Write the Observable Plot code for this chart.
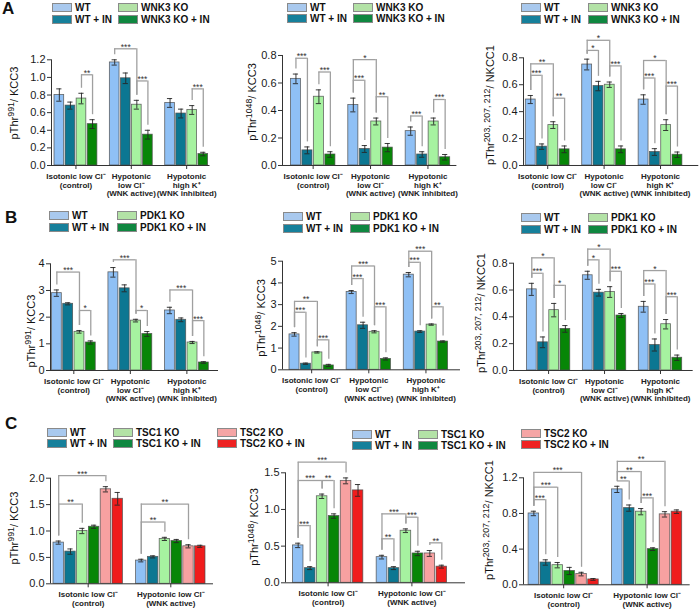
<!DOCTYPE html>
<html>
<head>
<meta charset="utf-8">
<script src="https://cdn.jsdelivr.net/npm/d3@7"></script>
<script src="https://cdn.jsdelivr.net/npm/@observablehq/plot@0.6"></script>
<style>
  body { margin: 0; background: #fff; }
  #fig { position: relative; width: 700px; height: 610px; overflow: hidden; background: #fff;
         font-family: "Liberation Sans", Arial, sans-serif; color: #111; }
  .letter { position: absolute; font-weight: bold; font-size: 17px; line-height: 1; }
  .leg-box { position: absolute; width: 20px; height: 9px; border: 1px solid #8a8a8a; box-sizing: border-box; }
  .leg-text { position: absolute; font-weight: bold; font-size: 10px; line-height: 9px; white-space: nowrap; color: #111; }
  .ylab { position: absolute; font-size: 11px; line-height: 1; white-space: nowrap; color: #111;
          transform: translate(-50%, -50%) rotate(-90deg); }
  .ylab sup { font-size: 80%; line-height: 0; vertical-align: 0.45em; }
  svg { position: absolute; }
</style>
</head>
<body>
<div id="fig"></div>
<script>
// ---------------- categories ----------------
const conditions3 = ["Isotonic low Cl⁻\n(control)", "Hypotonic\nlow Cl⁻\n(WNK active)", "Hypotonic\nhigh K⁺\n(WNK inhibited)"];
const conditions2 = ["Isotonic low Cl⁻\n(control)", "Hypotonic low Cl⁻\n(WNK active)"];
const wnkSeries = ["WT", "WT + IN", "WNK3 KO", "WNK3 KO + IN"];
const pdkSeries = ["WT", "WT + IN", "PDK1 KO", "PDK1 KO + IN"];
const tscSeries = ["WT", "WT + IN", "TSC1 KO", "TSC1 KO + IN", "TSC2 KO", "TSC2 KO + IN"];
const barColors4 = ["#8fc0f5", "#0c7792", "#a6f2a0", "#078607"];
const barColors6 = ["#8fc0f5", "#0c7792", "#a6f2a0", "#078607", "#f7a1a1", "#f01c1c"];
const legColors6 = ["#a9c9ee", "#16809b", "#b3e2a6", "#0f8740", "#f5a5a5", "#ee2222"];

// ---------------- y labels & ticks ----------------
const yLabelKCC991 = "pThr<sup>991</sup>/ KCC3";
const yLabelKCC1048 = "pThr<sup>1048</sup>/ KCC3";
const yLabelNKCC = "pThr<sup>203, 207, 212</sup>/ NKCC1";
const ticksA1 = [0, 0.2, 0.4, 0.6, 0.8, 1.0, 1.2];
const ticksA2 = [0, 0.2, 0.4, 0.6, 0.8];
const ticksA3 = [0, 0.2, 0.4, 0.6, 0.8];
const ticksB1 = [0, 1, 2, 3, 4];
const ticksB2 = [0, 1, 2, 3, 4, 5];
const ticksB3 = [0, 0.2, 0.4, 0.6, 0.8];
const ticksC1 = [0, 0.5, 1.0, 1.5, 2.0];
const ticksC2 = [0, 0.5, 1.0, 1.5];
const ticksC3 = [0, 0.4, 0.8, 1.2];

// ---------------- values (mean, error) per condition ----------------
const a1Mean = [[0.80, 0.68, 0.76, 0.47], [1.17, 0.99, 0.69, 0.35], [0.71, 0.59, 0.63, 0.13]];
const a1Err  = [[0.07, 0.04, 0.06, 0.05], [0.03, 0.06, 0.05, 0.05], [0.05, 0.05, 0.05, 0.02]];
const a1Sig  = [[0, 2, 3, 1.03, "**"], [1, 0, 2, 1.325, "***"], [1, 2, 3, 0.96, "***"], [2, 2, 3, 0.87, "***"]];

const a2Mean = [[0.63, 0.11, 0.50, 0.08], [0.44, 0.12, 0.32, 0.13], [0.25, 0.08, 0.32, 0.06]];
const a2Err  = [[0.035, 0.025, 0.05, 0.02], [0.05, 0.025, 0.025, 0.03], [0.03, 0.02, 0.025, 0.02]];
const a2Sig  = [[0, 0, 1, 0.78, "***"], [0, 2, 3, 0.68, "***"], [1, 0, 2, 0.77, "*"], [1, 0, 1, 0.62, "***"],
                [1, 2, 3, 0.50, "**"], [2, 0, 1, 0.36, "***"], [2, 2, 3, 0.48, "***"]];

const a3Mean = [[0.49, 0.14, 0.30, 0.12], [0.75, 0.59, 0.60, 0.12], [0.49, 0.10, 0.30, 0.08]];
const a3Err  = [[0.03, 0.02, 0.025, 0.025], [0.04, 0.035, 0.02, 0.025], [0.035, 0.025, 0.04, 0.02]];
const a3Sig  = [[0, 0, 2, 0.755, "**"], [0, 0, 1, 0.67, "***"], [0, 2, 3, 0.50, "**"], [1, 0, 2, 0.93, "*"],
                [1, 0, 1, 0.855, "*"], [1, 2, 3, 0.74, "***"], [2, 0, 2, 0.78, "*"], [2, 0, 1, 0.65, "***"], [2, 2, 3, 0.59, "***"]];

const b1Mean = [[2.90, 2.50, 1.45, 1.05], [3.68, 3.08, 1.87, 1.37], [2.25, 1.90, 1.05, 0.30]];
const b1Err  = [[0.12, 0.04, 0.05, 0.06], [0.18, 0.13, 0.05, 0.09], [0.12, 0.07, 0.04, 0.03]];
const b1Sig  = [[0, 0, 2, 3.69, "***"], [0, 2, 3, 2.25, "*"], [1, 0, 2, 4.15, "***"], [1, 2, 3, 2.25, "*"],
                [2, 0, 2, 3.02, "***"], [2, 2, 3, 1.87, "***"]];

const b2Mean = [[1.63, 0.28, 0.80, 0.20], [3.58, 2.05, 1.75, 0.50], [4.38, 1.76, 2.08, 1.30]];
const b2Err  = [[0.08, 0.03, 0.03, 0.05], [0.07, 0.14, 0.05, 0.05], [0.10, 0.04, 0.03, 0.03]];
const b2Sig  = [[0, 0, 2, 3.15, "**"], [0, 0, 1, 2.65, "***"], [0, 2, 3, 1.38, "***"], [1, 0, 2, 4.78, "***"],
                [1, 0, 1, 4.2, "***"], [1, 2, 3, 2.9, "***"], [2, 0, 2, 5.46, "***"], [2, 0, 1, 4.95, "***"], [2, 2, 3, 2.9, "**"]];

const b3Mean = [[0.605, 0.21, 0.45, 0.31], [0.71, 0.58, 0.585, 0.41], [0.475, 0.19, 0.345, 0.095]];
const b3Err  = [[0.045, 0.04, 0.05, 0.025], [0.03, 0.025, 0.04, 0.015], [0.04, 0.045, 0.035, 0.02]];
const b3Sig  = [[0, 0, 2, 0.84, "*"], [0, 0, 1, 0.725, "***"], [0, 2, 3, 0.635, "*"], [1, 0, 2, 0.905, "*"],
                [1, 0, 1, 0.825, "*"], [1, 2, 3, 0.74, "***"], [2, 0, 2, 0.745, "*"], [2, 0, 1, 0.645, "***"], [2, 2, 3, 0.55, "***"]];

const c1Mean = [[0.78, 0.61, 1.00, 1.08, 1.79, 1.61], [0.44, 0.51, 0.85, 0.81, 0.71, 0.71]];
const c1Err  = [[0.03, 0.05, 0.05, 0.03, 0.05, 0.12], [0.025, 0.02, 0.03, 0.03, 0.03, 0.02]];
const c1Sig  = [[0, 0, 4, 2.05, "***"], [0, 0, 2, 1.51, "**"], [1, 0, 4, 1.51, "**"], [1, 0, 2, 1.17, "**"]];

const c2Mean = [[0.51, 0.20, 1.18, 0.91, 1.39, 1.26], [0.35, 0.20, 0.71, 0.40, 0.40, 0.22]];
const c2Err  = [[0.03, 0.02, 0.03, 0.03, 0.04, 0.08], [0.025, 0.02, 0.025, 0.03, 0.04, 0.02]];
const c2Sig  = [[0, 0, 4, 1.645, "***"], [0, 0, 2, 1.395, "***"], [0, 2, 3, 1.395, "**"], [0, 0, 1, 0.78, "***"],
                [1, 0, 2, 0.94, "***"], [1, 2, 3, 0.895, "***"], [1, 0, 1, 0.60, "**"], [1, 4, 5, 0.545, "**"]];

const c3Mean = [[0.80, 0.25, 0.22, 0.155, 0.12, 0.06], [1.07, 0.86, 0.82, 0.40, 0.79, 0.82]];
const c3Err  = [[0.025, 0.03, 0.03, 0.04, 0.02, 0.01], [0.035, 0.035, 0.035, 0.015, 0.03, 0.02]];
const c3Sig  = [[0, 0, 4, 1.26, "***"], [0, 0, 2, 1.095, "***"], [0, 0, 1, 0.955, "***"], [1, 0, 4, 1.385, "**"],
                [1, 0, 2, 1.27, "**"], [1, 0, 1, 1.165, "**"], [1, 2, 3, 0.975, "***"]];

// ---------------- layout (pixels) ----------------
const fig = document.getElementById("fig");
const FONT = '"Liberation Sans", Arial, sans-serif';
const fmt1 = d3.format(".1f"), fmt0 = d3.format("d");

const panels = [
  {means: a1Mean, errs: a1Err, sigs: a1Sig, series: wnkSeries, colors: barColors4, groups: conditions3, ticks: ticksA1, fmt: fmt1,
   ylab: yLabelKCC991, lab: [14, 103], g: {axisL: 51, first: 53.3, last: 208.3, axisR: 209.5, y0: 165, yTop: 59.3, top: 25}},
  {means: a2Mean, errs: a2Err, sigs: a2Sig, series: wnkSeries, colors: barColors4, groups: conditions3, ticks: ticksA2, fmt: fmt1,
   ylab: yLabelKCC1048, lab: [252, 102], g: {axisL: 282.3, first: 290, last: 450.7, axisR: 456.7, y0: 165, yTop: 55, top: 25}},
  {means: a3Mean, errs: a3Err, sigs: a3Sig, series: wnkSeries, colors: barColors4, groups: conditions3, ticks: ticksA3, fmt: fmt1,
   ylab: yLabelNKCC, lab: [490, 105], g: {axisL: 522.7, first: 524.3, last: 682.3, axisR: 698, y0: 165, yTop: 57.3, top: 25}},
  {means: b1Mean, errs: b1Err, sigs: b1Sig, series: pdkSeries, colors: barColors4, groups: conditions3, ticks: ticksB1, fmt: fmt0,
   ylab: yLabelKCC991, lab: [31, 331], g: {axisL: 50, first: 50.7, last: 209, axisR: 218, y0: 370, yTop: 263.3, top: 232}},
  {means: b2Mean, errs: b2Err, sigs: b2Sig, series: pdkSeries, colors: barColors4, groups: conditions3, ticks: ticksB2, fmt: fmt0,
   ylab: yLabelKCC1048, lab: [261, 318], g: {axisL: 282, first: 288.3, last: 448.3, axisR: 460, y0: 369.3, yTop: 260.7, top: 232}},
  {means: b3Mean, errs: b3Err, sigs: b3Sig, series: pdkSeries, colors: barColors4, groups: conditions3, ticks: ticksB3, fmt: fmt1,
   ylab: yLabelNKCC, lab: [481, 313], g: {axisL: 513.3, first: 526, last: 682.7, axisR: 693, y0: 370, yTop: 262.7, top: 232}},
  {means: c1Mean, errs: c1Err, sigs: c1Sig, series: tscSeries, colors: barColors6, groups: conditions2, ticks: ticksC1, fmt: fmt1,
   ylab: yLabelKCC991, lab: [14, 528], g: {axisL: 50, first: 52.3, last: 205.7, axisR: 213, y0: 583.3, yTop: 477.7, top: 448}},
  {means: c2Mean, errs: c2Err, sigs: c2Sig, series: tscSeries, colors: barColors6, groups: conditions2, ticks: ticksC2, fmt: fmt1,
   ylab: yLabelKCC1048, lab: [254, 527], g: {axisL: 285, first: 291.7, last: 447.3, axisR: 465, y0: 582.3, yTop: 472.3, top: 448}},
  {means: c3Mean, errs: c3Err, sigs: c3Sig, series: tscSeries, colors: barColors6, groups: conditions2, ticks: ticksC3, fmt: fmt1,
   ylab: yLabelNKCC, lab: [489, 520], g: {axisL: 523.3, first: 527.7, last: 682.7, axisR: 690, y0: 584.3, yTop: 477.3, top: 448}}
];

function drawPanel(p) {
  const G = p.g;
  const n = p.series.length, nG = p.means.length, gapUnits = 1;
  const total = nG * n + (nG - 1) * gapUnits;
  const u = (G.last - G.first) / total;
  const padL = (G.first - G.axisL) / u, padR = (G.axisR - G.last) / u;
  const ymax = p.ticks[p.ticks.length - 1];
  const ppu = (G.y0 - G.yTop) / ymax;
  const mL = 48, mR = 8, mB = 46;
  const svgLeft = G.axisL - mL, svgTop = G.top;
  const mT = G.yTop - svgTop;
  const width = G.axisR + mR - svgLeft, height = G.y0 + mB - svgTop;
  const pos = (g, s) => g * (n + gapUnits) + s;

  const bars = [];
  p.means.forEach((row, g) => row.forEach((v, s) => bars.push({
    g, s, v, e: p.errs[g][s], name: p.series[s], x1: pos(g, s), x2: pos(g, s) + 1, xc: pos(g, s) + 0.5
  })));
  const topOf = (g, s) => p.means[g][s] + p.errs[g][s];
  const cap = 2.6 / u;
  const legGap = 5 / ppu;
  const brackets = p.sigs.map(([g, i, j, level, label]) => ({
    x1: pos(g, i) + 0.5, x2: pos(g, j) + 0.5, y: level, label
  }));
  const legs = [];
  p.sigs.forEach(([g, i, j, level]) => {
    legs.push({x: pos(g, i) + 0.5, y1: level, y2: Math.min(level, topOf(g, i) + legGap)});
    legs.push({x: pos(g, j) + 0.5, y1: level, y2: Math.min(level, topOf(g, j) + legGap)});
  });
  const groupData = p.groups.map((label, g) => ({label, xc: pos(g, 0) + n / 2}));

  const svg = Plot.plot({
    width, height, marginLeft: mL, marginRight: mR, marginTop: mT, marginBottom: mB,
    x: {domain: [-padL, total + padR], label: null},
    y: {domain: [0, ymax], label: null},
    color: {domain: p.series, range: p.colors},
    style: {background: "transparent", overflow: "visible", fontFamily: FONT, fontSize: "11px", color: "#1a1a1a"},
    marks: [
      Plot.rect(bars, {x1: "x1", x2: "x2", y1: 0, y2: "v", fill: "name", stroke: "#4d4d4d", strokeWidth: 0.8,
                       strokeOpacity: 0.85, insetLeft: 0.7, insetRight: 0.7}),
      Plot.ruleX(bars, {x: "xc", y1: d => d.v - d.e, y2: d => d.v + d.e, stroke: "#262626", strokeWidth: 0.9}),
      Plot.ruleY(bars, {y: d => d.v + d.e, x1: d => d.xc - cap, x2: d => d.xc + cap, stroke: "#262626", strokeWidth: 0.9}),
      Plot.ruleY(bars, {y: d => d.v - d.e, x1: d => d.xc - cap, x2: d => d.xc + cap, stroke: "#262626", strokeWidth: 0.9}),
      Plot.ruleX(legs, {x: "x", y1: "y1", y2: "y2", stroke: "#a0a0a0", strokeWidth: 1.3}),
      Plot.ruleY(brackets, {y: "y", x1: "x1", x2: "x2", stroke: "#a0a0a0", strokeWidth: 1.3}),
      Plot.text(brackets, {x: d => (d.x1 + d.x2) / 2, y: "y", text: "label", lineAnchor: "bottom", dy: 1,
                           fontSize: 8.5, fill: "#333"}),
      Plot.ruleY([0], {stroke: "#333", strokeWidth: 1}),
      Plot.ruleX([-padL], {y1: 0, y2: ymax, stroke: "#333", strokeWidth: 1}),
      Plot.axisY({ticks: p.ticks, tickFormat: p.fmt, tickSize: 4, tickPadding: 2, label: null, stroke: "#333"}),
      Plot.axisX({ticks: groupData.map(d => d.xc), tickFormat: () => "", tickSize: 4, label: null, stroke: "#333"}),
      Plot.text(groupData, {x: "xc", y: 0, text: "label", lineAnchor: "top", dy: 7, fontSize: 8,
                            fontWeight: "bold", lineHeight: 1.1, fill: "#222"})
    ]
  });
  svg.style.left = svgLeft + "px";
  svg.style.top = svgTop + "px";
  fig.appendChild(svg);

  const yl = document.createElement("div");
  yl.className = "ylab";
  yl.innerHTML = p.ylab;
  yl.style.left = p.lab[0] + "px";
  yl.style.top = p.lab[1] + "px";
  fig.appendChild(yl);
}
panels.forEach(drawPanel);

// ---------------- legends ----------------
function legendColumn(x, y, labels, colors, rowStep) {
  labels.forEach((label, k) => {
    const box = document.createElement("div");
    box.className = "leg-box";
    box.style.left = x + "px";
    box.style.top = (y + k * rowStep) + "px";
    box.style.background = colors[k];
    fig.appendChild(box);
    const t = document.createElement("div");
    t.className = "leg-text";
    t.textContent = label;
    t.style.left = (x + 23) + "px";
    t.style.top = (y + k * rowStep) + "px";
    fig.appendChild(t);
  });
}
function legend4(x1, x2, y, series) {
  legendColumn(x1, y, series.slice(0, 2), legColors6.slice(0, 2), 11.5);
  legendColumn(x2, y, series.slice(2, 4), legColors6.slice(2, 4), 11.5);
}
legend4(52, 118, 3, wnkSeries);
legend4(287, 353, 2.5, wnkSeries);
legend4(521, 588, 3, wnkSeries);
legend4(49, 117, 211, pdkSeries);
legend4(283, 350, 212, pdkSeries);
legend4(521, 588, 213, pdkSeries);
// panel C legends
legendColumn(47, 428, tscSeries.slice(0, 2), legColors6.slice(0, 2), 11);
legendColumn(113, 428, tscSeries.slice(2, 4), legColors6.slice(2, 4), 11);
legendColumn(217, 428, tscSeries.slice(4, 6), legColors6.slice(4, 6), 11);
legendColumn(352, 430, tscSeries.slice(0, 2), legColors6.slice(0, 2), 11);
legendColumn(418, 430, tscSeries.slice(2, 4), legColors6.slice(2, 4), 11);
legendColumn(521, 429, tscSeries.slice(4, 6), legColors6.slice(4, 6), 11);

// ---------------- panel letters ----------------
[["A", 2, 0], ["B", 5, 209], ["C", 5, 415]].forEach(([txt, x, y]) => {
  const d = document.createElement("div");
  d.className = "letter";
  d.textContent = txt;
  d.style.left = x + "px";
  d.style.top = y + "px";
  fig.appendChild(d);
});
</script>
</body>
</html>
